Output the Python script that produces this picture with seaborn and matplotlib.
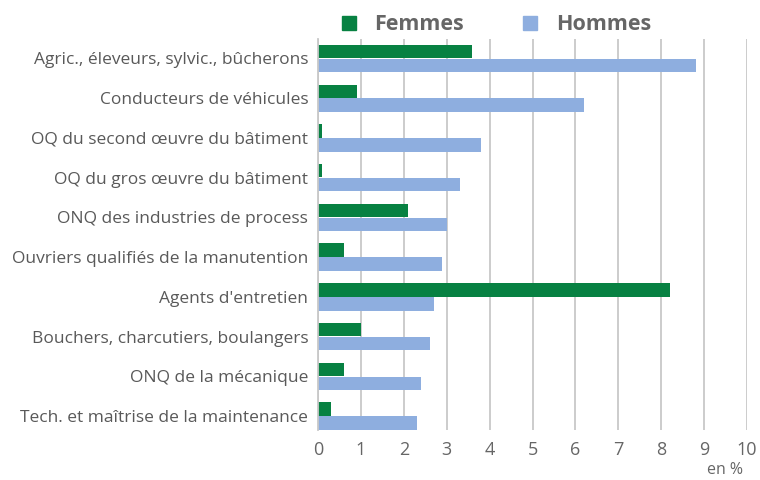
import matplotlib
matplotlib.use("Agg")
import matplotlib.pyplot as plt
import seaborn as sns
import pandas as pd
from matplotlib.lines import Line2D

categories = [
    "Agric., éleveurs, sylvic., bûcherons",
    "Conducteurs de véhicules",
    "OQ du second œuvre du bâtiment",
    "OQ du gros œuvre du bâtiment",
    "ONQ des industries de process",
    "Ouvriers qualifiés de la manutention",
    "Agents d'entretien",
    "Bouchers, charcutiers, boulangers",
    "ONQ de la mécanique",
    "Tech. et maîtrise de la maintenance",
]
femmes = [3.6, 0.9, 0.1, 0.1, 2.1, 0.6, 8.2, 1.0, 0.6, 0.3]
hommes = [8.8, 6.2, 3.8, 3.3, 3.0, 2.9, 2.7, 2.6, 2.4, 2.3]
series = ["Femmes", "Hommes"]
colors = ["#078142", "#8eaedf"]
x_ticks = list(range(0, 11))

df = pd.DataFrame({
    "cat": categories * 2,
    "val": femmes + hommes,
    "sexe": [series[0]] * len(categories) + [series[1]] * len(categories),
})

sns.set_theme(style="white")
plt.rcParams["font.family"] = ["Open Sans", "DejaVu Sans"]

fig = plt.figure(figsize=(7.6, 4.8), dpi=100)
ax = fig.add_axes([318 / 760, 1 - 430 / 480, (747 - 318) / 760, (430 - 39) / 480])

sns.barplot(data=df, y="cat", x="val", hue="sexe", order=categories,
            hue_order=series, palette=colors, orient="h", width=0.7,
            gap=0.03, saturation=1, ax=ax, legend=False, errorbar=None,
            linewidth=0)

ax.set_xlim(0, 10)
ax.set_ylim(9.35, -0.49)
ax.set_xticks(x_ticks)
ax.set_xticklabels([str(t) for t in x_ticks], fontsize=13, color="#666666")
ax.tick_params(axis="y", labelsize=12.5, labelcolor="#595959", length=0, pad=7)
ax.tick_params(axis="x", length=0, pad=8)
ax.set_xlabel("")
ax.set_ylabel("")
ax.grid(axis="x", color="#c8c8c8", linewidth=1.3)
ax.set_axisbelow(True)
for s in ["top", "right", "bottom"]:
    ax.spines[s].set_visible(False)
ax.spines["left"].set_color("#c8c8c8")
ax.spines["left"].set_linewidth(1.3)

fig.text(725 / 760, 1 - 470 / 480, "en %", fontsize=11.5, color="#666666",
         ha="center", va="center")

handles = [Line2D([], [], marker="s", linestyle="", markersize=10.5,
                  markerfacecolor=c, markeredgecolor=c) for c in colors]
leg = fig.legend(handles, series, loc="center", bbox_to_anchor=(495 / 760, 1 - 25 / 480),
                 ncol=2, frameon=False, columnspacing=2.6, handletextpad=0.75,
                 handlelength=0.9,
                 prop={"family": "Open Sans", "weight": "bold", "size": 15.5})
for t in leg.get_texts():
    t.set_color("#666666")

fig.savefig("out.png", dpi=100)
